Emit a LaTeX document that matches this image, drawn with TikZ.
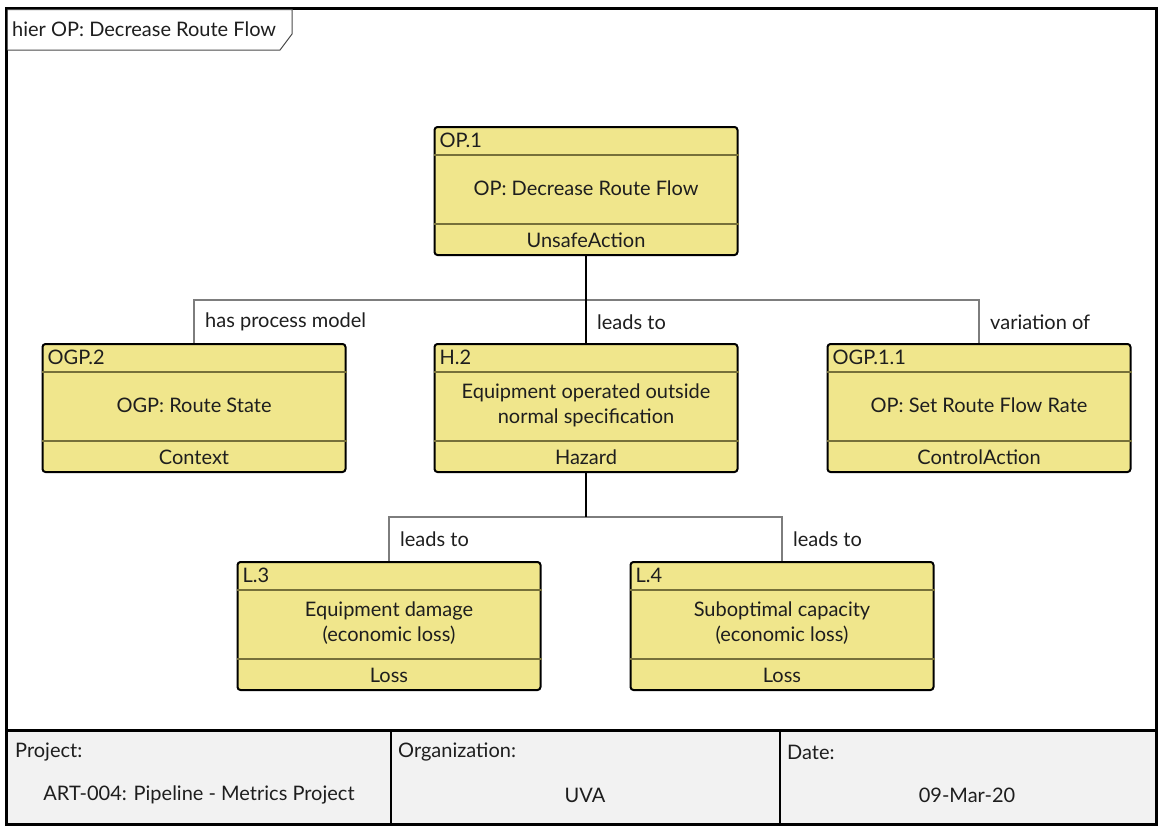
\documentclass[tikz,border=0pt]{standalone}
\usepackage{fontspec}
\setmainfont{Lato}
\definecolor{boxfill}{RGB}{240,230,140}
\definecolor{boxsep}{RGB}{118,112,58}
\definecolor{footfill}{RGB}{242,242,242}
\definecolor{busgrey}{RGB}{125,125,125}
\definecolor{inktext}{RGB}{30,30,30}
\tikzset{
  frameline/.style={line width=3pt, black},
  elbox/.style={draw=black, line width=2pt, fill=boxfill, rounded corners=3pt,
    minimum width=303pt, minimum height=128pt, inner sep=0pt},
  sepline/.style={draw=boxsep, line width=1.8pt},
  txt/.style={font=\fontsize{20}{25}\selectfont, text=inktext, inner sep=0pt},
  trunk/.style={draw=black, line width=1.5pt},
  branch/.style={draw=busgrey, line width=1.5pt},
  cellline/.style={draw=black, line width=2pt},
}
% one element: name, centre x, top y, id, body, kind
\newcommand\elem[6]{%
  \node[elbox] (#1) at (#2,#3+64) {};
  \draw[sepline] ([yshift=-29pt]#1.north west) -- ([yshift=-29pt]#1.north east);
  \draw[sepline] ([yshift=32pt]#1.south west) -- ([yshift=32pt]#1.south east);
  \node[txt, anchor=west] (#1-id) at ([xshift=6pt,yshift=-14.5pt]#1.north west) {#4};
  \node[txt, align=center] (#1-body) at ([yshift=-62.5pt]#1.north) {#5};
  \node[txt] (#1-kind) at ([yshift=16pt]#1.south) {#6};
}
\begin{document}
\begin{tikzpicture}[x=1pt,y=-1pt]
\useasboundingbox (0,0) rectangle (1161,827);
\fill[white] (0,0) rectangle (1161,827);

% footer cells
\fill[footfill] (6,730) rectangle (1156,824);
\draw[cellline] (391,730) -- (391,824);
\draw[cellline] (780,730) -- (780,824);
\draw[frameline] (6,730) -- (1156,730);

% outer frame
\draw[frameline] (6,8) rectangle (1156,824);

% diagram name tab
\draw[draw=black!70, line width=1pt, fill=white] (7.5,9.5) -- (292,9.5) -- (292,34) -- (280,50) -- (7.5,50);
\node[txt, anchor=west] (tabname) at (12,29) {hier OP: Decrease Route Flow};

% elements
\elem{op1}{586}{127}{OP.1}{OP: Decrease Route Flow}{UnsafeAction}
\elem{ogp2}{194}{344}{OGP.2}{OGP: Route State}{Context}
\elem{h2}{586}{344}{H.2}{Equipment operated outside\\normal specification}{Hazard}
\elem{ogp11}{979}{344}{OGP.1.1}{OP: Set Route Flow Rate}{ControlAction}
\elem{l3}{389}{562}{L.3}{Equipment damage\\(economic loss)}{Loss}
\elem{l4}{782}{562}{L.4}{Suboptimal capacity\\(economic loss)}{Loss}

% connectors from OP.1
\coordinate (bus1) at (586,300);
\draw[branch] (ogp2.north) |- (bus1) -| (ogp11.north);
\draw[trunk] (op1.south) -- (h2.north);

% connectors from H.2
\coordinate (bus2) at (586,517);
\draw[branch] (l3.north) |- (bus2) -| (l4.north);
\draw[trunk] (h2.south) -- (bus2);

% connector labels
\node[txt, anchor=west] (lab1) at (205,322) {has process model};
\node[txt, anchor=west] (lab2) at (597,322) {leads to};
\node[txt, anchor=west] (lab3) at (990,322) {variation of};
\node[txt, anchor=west] (lab4) at (400,539) {leads to};
\node[txt, anchor=west] (lab5) at (793,539) {leads to};

% footer texts
\node[txt, anchor=west] (projl) at (15,752) {Project:};
\node[txt] (projv) at (199,795) {ART-004: Pipeline - Metrics Project};
\node[txt, anchor=west] (orgl) at (398,752) {Organization:};
\node[txt] (orgv) at (585,795) {UVA};
\node[txt, anchor=west] (datel) at (787,752) {Date:};
\node[txt] (datev) at (967,795) {09-Mar-20};
\end{tikzpicture}
\end{document}
